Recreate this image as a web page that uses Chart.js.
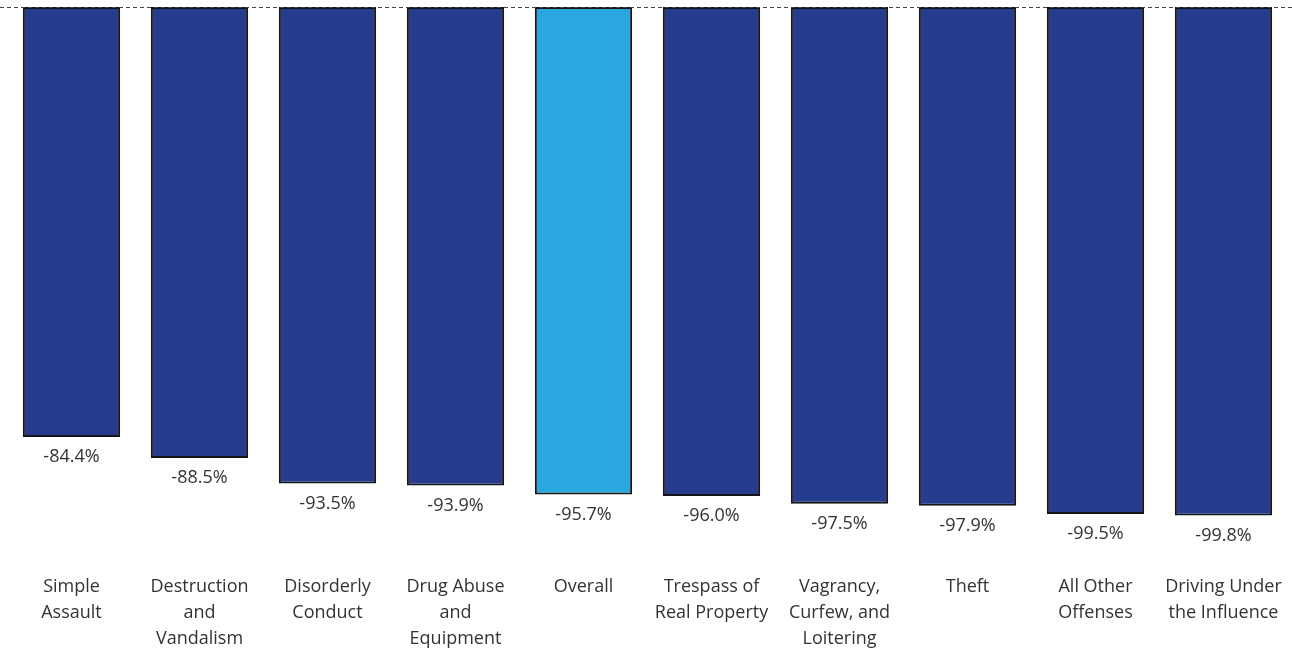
<!DOCTYPE html>
<html>
<head>
<meta charset="utf-8">
<script src="https://cdn.jsdelivr.net/npm/chart.js@4"></script>
<style>
  html, body { margin: 0; padding: 0; background: #fff; }
  #wrap { width: 1292px; height: 648px; }
</style>
</head>
<body>
<div id="wrap"><canvas id="chart" width="1292" height="648"></canvas></div>
<script>
/* ---- data ---- */
const categories = [
  ['Simple', 'Assault'],
  ['Destruction', 'and', 'Vandalism'],
  ['Disorderly', 'Conduct'],
  ['Drug Abuse', 'and', 'Equipment'],
  ['Overall'],
  ['Trespass of', 'Real Property'],
  ['Vagrancy,', 'Curfew, and', 'Loitering'],
  ['Theft'],
  ['All Other', 'Offenses'],
  ['Driving Under', 'the Influence']
];
const changePct = [-84.4, -88.5, -93.5, -93.9, -95.7, -96.0, -97.5, -97.9, -99.5, -99.8];
const highlight = 'Overall';

const DARK = '#263c8f';
const LIGHT = '#29a8e0';
const TEXT = '#333';
const FONT = "'Open Sans', sans-serif";

/* dashed zero line across the full width */
const zeroLine = {
  id: 'zeroLine',
  afterDatasetsDraw (chart) {
    const { ctx } = chart;
    const y = Math.round(chart.scales.y.getPixelForValue(0)) + 0.5;
    ctx.save();
    ctx.strokeStyle = '#444';
    ctx.lineWidth = 1;
    ctx.setLineDash([4, 3]);
    ctx.beginPath();
    ctx.moveTo(0, y);
    ctx.lineTo(chart.width, y);
    ctx.stroke();
    ctx.restore();
  }
};

/* value labels under each bar */
const valueLabels = {
  id: 'valueLabels',
  afterDatasetsDraw (chart) {
    const { ctx } = chart;
    const meta = chart.getDatasetMeta(0);
    ctx.save();
    ctx.font = '18px ' + FONT;
    ctx.fillStyle = TEXT;
    ctx.textAlign = 'center';
    ctx.textBaseline = 'middle';
    meta.data.forEach((bar, i) => {
      ctx.fillText(changePct[i].toFixed(1) + '%', bar.x, bar.y + 20);
    });
    ctx.restore();
  }
};

new Chart(document.getElementById('chart'), {
  type: 'bar',
  data: {
    labels: categories,
    datasets: [{
      data: changePct,
      backgroundColor: categories.map(c => c.join(' ') === highlight ? LIGHT : DARK),
      borderColor: '#151515',
      borderWidth: 2,
      borderSkipped: false,
      categoryPercentage: 1,
      barPercentage: 0.76
    }]
  },
  options: {
    responsive: false,
    animation: false,
    devicePixelRatio: 1,
    layout: { padding: { top: 7, left: 7.5, right: 4.5, bottom: 0 } },
    plugins: { legend: { display: false }, tooltip: { enabled: false } },
    scales: {
      y: {
        display: false,
        min: -100,
        max: 0
      },
      x: {
        grid: { display: false, drawTicks: false },
        border: { display: false },
        ticks: {
          color: TEXT,
          font: { family: FONT, size: 18, lineHeight: 1.42 },
          padding: 58,
          maxRotation: 0,
          autoSkip: false
        },
        afterFit (scale) {
          scale.height = 131.5;
          scale.paddingLeft = 0;      // labels fit inside their slots
          scale.paddingRight = 0;
        }
      }
    }
  },
  plugins: [zeroLine, valueLabels]
});
</script>
</body>
</html>
